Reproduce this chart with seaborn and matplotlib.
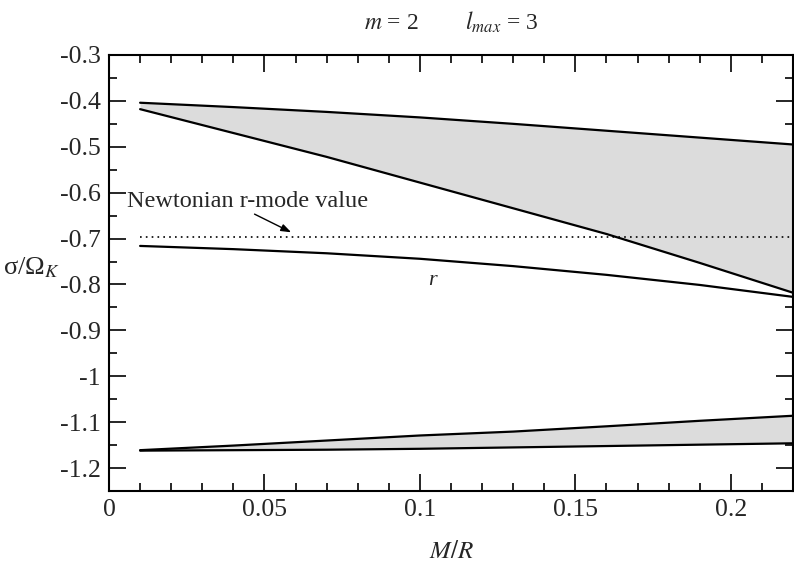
import numpy as np
import pandas as pd
import matplotlib
matplotlib.use('Agg')
import matplotlib.pyplot as plt
import seaborn as sns
from matplotlib.ticker import MultipleLocator, FormatStrFormatter

# Values
mr = [0.01, 0.04, 0.07, 0.10, 0.13, 0.16, 0.19, 0.22]

upper_top = [-0.404, -0.4135, -0.424, -0.436, -0.450, -0.465, -0.480, -0.495]
upper_bottom = [-0.418, -0.470, -0.522, -0.578, -0.634, -0.690, -0.753, -0.818]
r_mode = [-0.716, -0.723, -0.732, -0.744, -0.760, -0.779, -0.801, -0.827]
lower_top = [-1.161, -1.151, -1.140, -1.129, -1.1205, -1.109, -1.097, -1.086]
lower_bottom = [-1.162, -1.161, -1.160, -1.158, -1.155, -1.152, -1.149, -1.146]

newtonian_value = -0.697

sns.set_theme(style='ticks')
plt.rcParams['font.family'] = ['Liberation Serif', 'DejaVu Serif']
plt.rcParams['mathtext.fontset'] = 'stix'
plt.rcParams['axes.unicode_minus'] = False

df = pd.DataFrame({'mr': mr, 'upper_top': upper_top, 'upper_bottom': upper_bottom,
                   'r_mode': r_mode, 'lower_top': lower_top, 'lower_bottom': lower_bottom})

fig = plt.figure(figsize=(7.94, 5.67), dpi=100)
ax = fig.add_axes([0.1373, 0.134, 0.8615, 0.769])

# shaded bands
ax.fill_between(df['mr'], df['upper_top'], df['upper_bottom'], color='#dcdcdc', lw=0)
ax.fill_between(df['mr'], df['lower_top'], df['lower_bottom'], color='#dcdcdc', lw=0)

for col in ['upper_top', 'upper_bottom', 'r_mode', 'lower_top', 'lower_bottom']:
    sns.lineplot(data=df, x='mr', y=col, ax=ax, color='black', lw=1.6)

# Newtonian value
ax.plot([0.01, 0.22], [newtonian_value, newtonian_value], color='black', lw=1.2, ls=(0, (1, 2.5)))
ax.text(0.0058, -0.62, 'Newtonian r-mode value', fontsize=17.5, va='center', ha='left')
ax.annotate('', xy=(0.0594, -0.689), xytext=(0.046, -0.644),
            arrowprops=dict(arrowstyle='-|>,head_length=0.5,head_width=0.18', color='black', lw=1))
ax.text(0.104, -0.792, 'r', fontsize=16, style='italic', ha='center', va='center')

ax.set_xlim(0, 0.22)
ax.set_ylim(-1.25, -0.3)
ax.xaxis.set_major_locator(MultipleLocator(0.05))
ax.xaxis.set_minor_locator(MultipleLocator(0.01))
ax.yaxis.set_major_locator(MultipleLocator(0.1))
ax.yaxis.set_minor_locator(MultipleLocator(0.05))
ax.xaxis.set_major_formatter(FormatStrFormatter('%g'))
ax.yaxis.set_major_formatter(FormatStrFormatter('%g'))
ax.tick_params(which='both', direction='in', top=True, right=True, width=1.4, labelsize=18.5, pad=6)
ax.tick_params(which='major', length=12)
ax.tick_params(which='minor', length=6)
for sp in ax.spines.values():
    sp.set_linewidth(1.5)
    sp.set_color('black')

ax.set_xlabel('')
ax.set_ylabel('')
fig.text(0.004, 1 - 268 / 567, r'σ/Ω$_{K}$', fontsize=19, ha='left', va='center')
fig.text(0.569, 0.026, r'$M/R$', fontsize=18, ha='center', va='center')
fig.text(0.568, 0.961, r'$m$ = 2        $l_{max}$ = 3', fontsize=17, ha='center', va='center')

fig.savefig('out.png', dpi=100)
